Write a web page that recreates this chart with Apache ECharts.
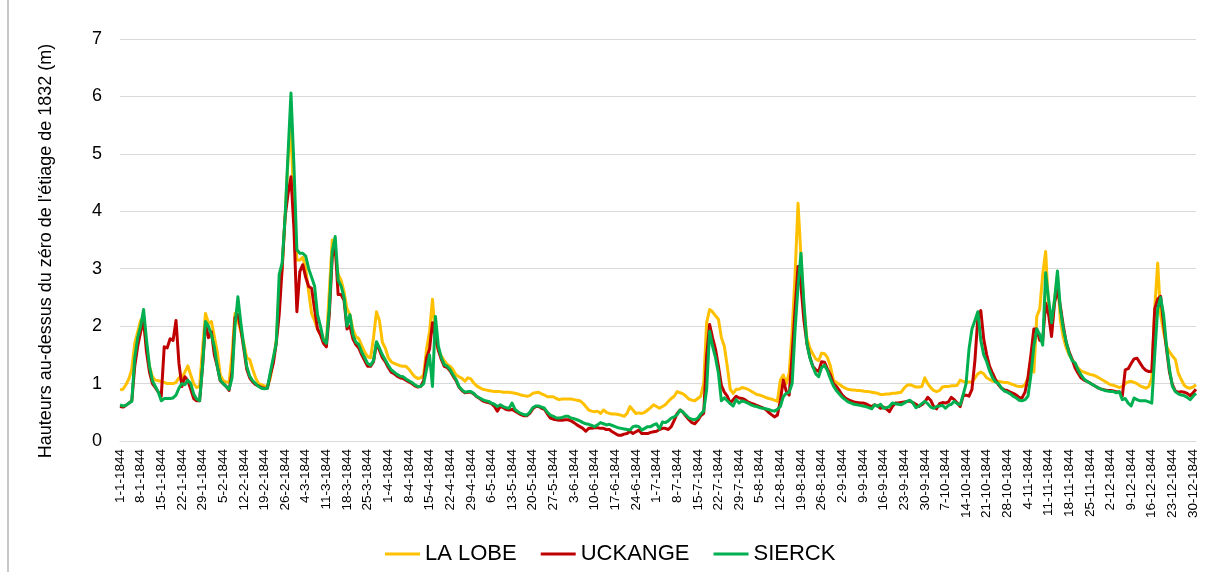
<!DOCTYPE html>
<html>
<head>
<meta charset="utf-8">
<script src="https://cdn.jsdelivr.net/npm/echarts@6/dist/echarts.min.js"></script>
<style>
html,body{margin:0;padding:0;background:#fff;}
#chart{width:1205px;height:572px;}
</style>
</head>
<body>
<div id="chart"></div>
<script>
// Calendar of 1844 (leap year) -> daily categories
const year = 1844;
const monthDays = [31, 29, 31, 30, 31, 30, 31, 31, 30, 31, 30, 31];
const categories = [];
monthDays.forEach((n, m) => { for (let d = 1; d <= n; d++) categories.push(d + '-' + (m + 1) + '-' + year); });

const seriesNames = ['LA LOBE', 'UCKANGE', 'SIERCK'];

const laLobe = [
0.89,0.9,0.98,1.08,1.25,1.7,1.9,2.1,2.15,1.65,
1.3,1.12,1.06,1.05,1.04,1.02,1.0,1.0,1.0,1.02,
1.1,1.1,1.2,1.31,1.15,1.0,0.93,0.95,1.6,2.22,
2.05,2.08,1.82,1.55,1.15,1.05,1.03,1.02,1.5,2.22,
2.1,1.9,1.7,1.45,1.42,1.25,1.1,1.0,0.98,0.96,
0.95,1.1,1.4,1.75,2.6,3.0,3.9,4.9,5.45,4.0,
3.15,3.15,3.2,3.0,2.6,2.22,2.1,1.95,1.85,1.78,
1.72,2.6,3.5,3.3,2.9,2.8,2.6,2.3,2.2,1.95,
1.82,1.78,1.66,1.55,1.47,1.45,1.8,2.25,2.1,1.72,
1.62,1.45,1.38,1.35,1.33,1.31,1.3,1.3,1.25,1.18,
1.12,1.09,1.1,1.15,1.6,1.9,2.47,1.8,1.58,1.48,
1.4,1.33,1.3,1.24,1.15,1.12,1.09,1.04,1.1,1.08,
1.01,0.96,0.93,0.9,0.89,0.88,0.87,0.86,0.86,0.86,
0.85,0.85,0.85,0.84,0.83,0.82,0.8,0.79,0.78,0.79,
0.83,0.84,0.85,0.82,0.8,0.77,0.77,0.77,0.74,0.72,
0.73,0.73,0.73,0.73,0.72,0.71,0.7,0.66,0.6,0.54,
0.52,0.51,0.52,0.48,0.54,0.5,0.48,0.47,0.47,0.46,
0.45,0.43,0.48,0.6,0.54,0.48,0.49,0.48,0.5,0.54,
0.58,0.63,0.6,0.57,0.6,0.63,0.69,0.74,0.78,0.86,
0.84,0.82,0.78,0.73,0.71,0.7,0.74,0.78,1.0,2.06,
2.29,2.25,2.18,2.12,1.8,1.65,1.3,0.9,0.83,0.9,
0.9,0.93,0.92,0.9,0.87,0.84,0.81,0.8,0.78,0.76,
0.74,0.73,0.71,0.69,1.06,1.15,1.0,1.18,1.9,2.9,
4.14,3.21,2.3,1.8,1.62,1.52,1.43,1.4,1.53,1.52,
1.45,1.3,1.06,1.02,0.99,0.95,0.92,0.9,0.89,0.89,
0.88,0.88,0.87,0.86,0.86,0.85,0.84,0.83,0.81,0.81,
0.82,0.82,0.83,0.83,0.84,0.85,0.92,0.97,0.98,0.96,
0.94,0.94,0.95,1.1,1.0,0.93,0.88,0.86,0.88,0.94,
0.95,0.95,0.96,0.96,0.97,1.06,1.04,1.02,1.03,1.02,
1.1,1.17,1.2,1.17,1.1,1.07,1.04,1.04,1.04,1.03,
1.02,1.02,1.0,0.98,0.96,0.95,0.95,0.98,1.1,1.45,
1.2,2.17,2.3,2.9,3.3,2.3,1.9,2.45,2.9,2.1,
1.8,1.62,1.5,1.42,1.33,1.27,1.22,1.2,1.18,1.16,
1.15,1.13,1.1,1.07,1.04,1.01,0.98,0.97,0.95,0.93,
0.95,1.0,1.03,1.04,1.02,1.0,0.96,0.94,0.92,0.95,
1.1,2.3,3.1,2.2,1.9,1.65,1.55,1.48,1.42,1.18,
1.07,0.97,0.93,0.92,0.94,0.98
];

const uckange = [
0.6,0.59,0.62,0.66,0.7,1.3,1.65,1.9,2.1,1.55,
1.2,1.0,0.93,0.85,0.78,1.64,1.62,1.78,1.75,2.1,
1.35,0.95,1.12,1.05,0.9,0.74,0.7,0.7,1.3,2.05,
1.8,1.9,1.5,1.3,1.05,1.0,0.95,0.88,1.2,2.15,
2.2,1.95,1.6,1.25,1.1,1.03,0.98,0.96,0.93,0.92,
0.92,1.15,1.35,1.7,2.2,3.0,3.9,4.3,4.6,3.7,
2.25,2.95,3.07,2.85,2.69,2.66,2.3,1.95,1.85,1.7,
1.64,2.2,3.2,3.4,2.55,2.55,2.45,1.95,2.0,1.78,
1.68,1.62,1.5,1.4,1.3,1.3,1.38,1.7,1.58,1.45,
1.38,1.28,1.2,1.17,1.13,1.1,1.09,1.06,1.03,1.0,
0.96,0.94,0.95,1.05,1.45,1.6,2.06,1.8,1.58,1.42,
1.3,1.28,1.22,1.13,1.05,0.94,0.88,0.84,0.85,0.85,
0.82,0.77,0.74,0.7,0.68,0.67,0.65,0.6,0.52,0.6,
0.58,0.55,0.54,0.55,0.52,0.49,0.46,0.44,0.44,0.48,
0.56,0.6,0.6,0.57,0.55,0.47,0.4,0.38,0.37,0.36,
0.36,0.37,0.37,0.35,0.32,0.28,0.25,0.22,0.17,0.22,
0.22,0.23,0.23,0.22,0.22,0.2,0.2,0.16,0.13,0.1,
0.1,0.12,0.13,0.17,0.13,0.16,0.19,0.13,0.13,0.13,
0.15,0.16,0.17,0.2,0.22,0.22,0.2,0.25,0.36,0.48,
0.54,0.5,0.43,0.37,0.32,0.3,0.36,0.44,0.48,1.48,
2.03,1.8,1.6,1.3,0.97,0.85,0.78,0.66,0.72,0.78,
0.75,0.74,0.72,0.68,0.66,0.64,0.62,0.6,0.58,0.55,
0.5,0.46,0.42,0.45,0.7,1.06,0.87,0.8,1.5,2.3,
3.04,2.7,2.1,1.7,1.47,1.3,1.24,1.21,1.38,1.37,
1.25,1.15,1.0,0.95,0.88,0.8,0.75,0.72,0.7,0.68,
0.67,0.66,0.66,0.65,0.62,0.6,0.63,0.61,0.57,0.59,
0.56,0.51,0.6,0.66,0.66,0.67,0.68,0.69,0.69,0.67,
0.64,0.6,0.63,0.68,0.76,0.71,0.6,0.56,0.65,0.67,
0.66,0.68,0.76,0.72,0.66,0.6,0.78,0.8,0.78,0.9,
1.4,2.15,2.27,1.77,1.5,1.3,1.18,1.07,0.98,0.92,
0.89,0.88,0.85,0.83,0.8,0.76,0.75,0.85,1.1,1.5,
1.95,1.95,1.75,1.75,2.4,2.2,1.82,2.4,2.64,2.34,
2.0,1.71,1.55,1.42,1.27,1.18,1.1,1.06,1.04,1.01,
0.98,0.95,0.92,0.9,0.89,0.88,0.88,0.87,0.86,0.85,
0.78,1.24,1.26,1.35,1.43,1.44,1.36,1.28,1.23,1.21,
1.21,2.3,2.47,2.52,2.05,1.6,1.2,0.98,0.87,0.85,
0.86,0.85,0.83,0.79,0.84,0.9
];

const sierck = [
0.63,0.61,0.62,0.66,0.69,1.45,1.8,2.0,2.29,1.75,
1.3,1.05,0.95,0.85,0.7,0.74,0.74,0.74,0.75,0.8,
0.92,1.0,0.98,1.06,1.0,0.82,0.73,0.7,1.3,2.08,
2.0,1.85,1.64,1.3,1.06,1.0,0.95,0.9,1.1,2.0,
2.51,2.05,1.65,1.3,1.13,1.05,1.0,0.95,0.92,0.91,
0.92,1.2,1.45,1.7,2.9,3.1,3.9,5.0,6.06,4.8,
3.33,3.27,3.27,3.22,3.0,2.85,2.7,2.2,2.0,1.76,
1.7,2.3,3.3,3.56,2.8,2.7,2.5,2.0,2.2,1.85,
1.72,1.68,1.55,1.45,1.35,1.32,1.4,1.73,1.62,1.5,
1.41,1.32,1.24,1.2,1.16,1.13,1.12,1.08,1.05,1.02,
0.98,0.95,0.95,1.0,1.25,1.5,0.95,2.17,1.65,1.45,
1.33,1.3,1.24,1.15,1.07,0.95,0.89,0.85,0.86,0.86,
0.83,0.78,0.75,0.72,0.7,0.69,0.66,0.64,0.6,0.63,
0.6,0.58,0.57,0.66,0.55,0.51,0.48,0.46,0.45,0.5,
0.58,0.61,0.61,0.59,0.57,0.5,0.45,0.43,0.4,0.4,
0.41,0.43,0.43,0.4,0.39,0.37,0.35,0.32,0.3,0.29,
0.27,0.25,0.28,0.32,0.3,0.28,0.29,0.27,0.25,0.23,
0.22,0.21,0.2,0.19,0.25,0.26,0.25,0.19,0.22,0.25,
0.25,0.28,0.3,0.21,0.33,0.32,0.35,0.4,0.42,0.46,
0.54,0.5,0.45,0.4,0.38,0.37,0.4,0.47,0.52,0.9,
1.91,1.65,1.45,1.18,0.7,0.75,0.7,0.65,0.61,0.72,
0.66,0.7,0.68,0.66,0.63,0.61,0.6,0.58,0.57,0.56,
0.55,0.53,0.52,0.55,0.6,0.77,0.83,0.85,1.0,1.93,
2.69,3.27,2.4,1.7,1.45,1.3,1.17,1.12,1.28,1.32,
1.22,1.08,0.96,0.88,0.82,0.76,0.72,0.68,0.66,0.64,
0.63,0.62,0.61,0.6,0.58,0.56,0.63,0.6,0.64,0.57,
0.58,0.6,0.66,0.65,0.64,0.63,0.66,0.69,0.71,0.66,
0.58,0.61,0.65,0.69,0.65,0.59,0.57,0.6,0.61,0.62,
0.57,0.62,0.64,0.69,0.65,0.63,0.8,1.0,1.6,1.95,
2.1,2.25,1.75,1.5,1.38,1.22,1.1,1.03,1.0,0.92,
0.87,0.85,0.82,0.78,0.75,0.71,0.7,0.72,0.78,1.15,
1.65,1.95,1.85,1.67,2.93,2.47,2.06,2.45,2.96,2.3,
1.95,1.72,1.52,1.4,1.36,1.24,1.15,1.08,1.04,1.01,
0.98,0.95,0.92,0.9,0.88,0.87,0.86,0.86,0.84,0.86,
0.72,0.74,0.66,0.61,0.75,0.72,0.7,0.7,0.7,0.68,
0.66,1.5,2.3,2.5,2.2,1.65,1.25,0.95,0.86,0.82,
0.8,0.79,0.76,0.72,0.78,0.83
];

const yTicks = [0, 1, 2, 3, 4, 5, 6, 7];
const colors = ['#FFC000', '#C00000', '#00B050'];
const FONT = '"Liberation Sans", Arial, sans-serif';

const chart = echarts.init(document.getElementById('chart'), null, {renderer: 'canvas'});
const valuesList = [laLobe, uckange, sierck];

chart.setOption({
  animation: false,
  backgroundColor: '#ffffff',
  grid: {left: 120, right: 9, top: 39, bottom: 131, containLabel: false},
  legend: {
    data: seriesNames,
    left: 385, top: 543, padding: 0,
    icon: 'rect', itemWidth: 35, itemHeight: 3, itemGap: 24,
    textStyle: {fontFamily: FONT, fontSize: 22, color: '#000'}
  },
  xAxis: {
    type: 'category',
    data: categories,
    boundaryGap: false,
    axisLine: {show: true, lineStyle: {color: '#D9D9D9', width: 1}},
    axisTick: {show: false},
    axisLabel: {interval: 6, rotate: 90, margin: 8, fontFamily: FONT, fontSize: 13.5, color: '#000'},
    splitLine: {show: false}
  },
  yAxis: {
    type: 'value',
    min: yTicks[0], max: yTicks[yTicks.length - 1], interval: 1,
    axisLine: {show: false},
    axisTick: {show: false},
    axisLabel: {margin: 18, fontFamily: FONT, fontSize: 18, color: '#000'},
    splitLine: {show: true, lineStyle: {color: '#D9D9D9', width: 1}}
  },
  graphic: [
    {type: 'line', shape: {x1: 8, y1: 0, x2: 8, y2: 572}, style: {stroke: '#c8c8c8', lineWidth: 2}, silent: true},
    {type: 'text', x: 46, y: 251, rotation: Math.PI / 2,
     style: {text: "Hauteurs au-dessus du zéro de l'étiage de 1832 (m)", font: '18px ' + FONT,
             fill: '#000', textAlign: 'center', textVerticalAlign: 'middle'}}
  ],
  series: seriesNames.map((name, i) => ({
    name: name,
    type: 'line',
    data: valuesList[i],
    showSymbol: false,
    symbol: 'none',
    lineStyle: {color: colors[i], width: 3, join: 'round'},
    itemStyle: {color: colors[i]},
    z: 2 + i
  }))
});
</script>
</body>
</html>
